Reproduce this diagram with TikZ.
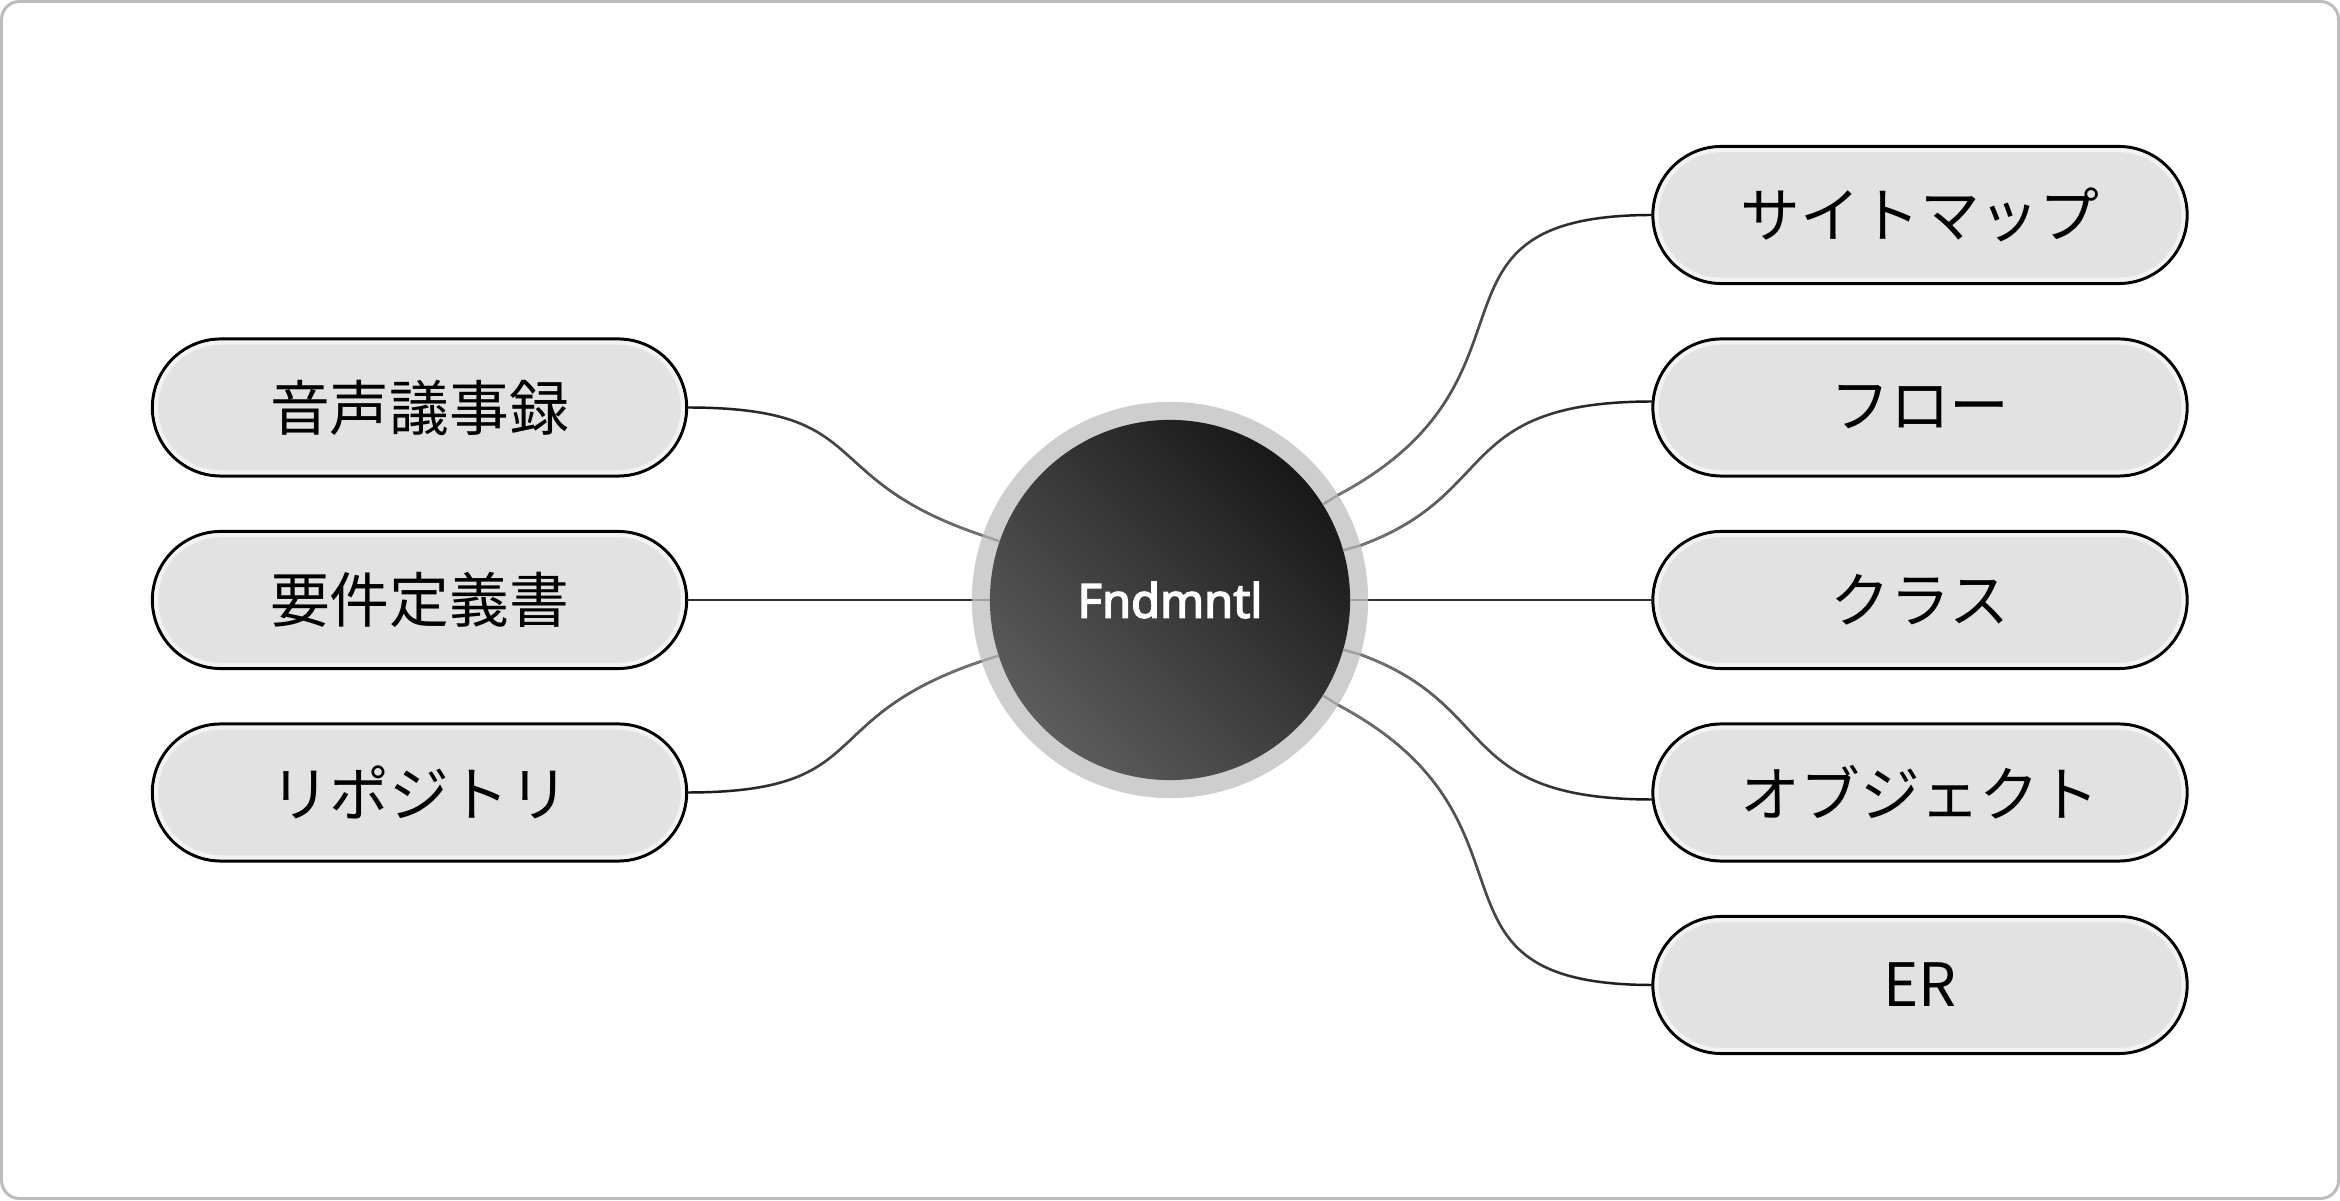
\documentclass[tikz,border=0pt]{standalone}
\usepackage{fontspec}
\newfontfamily\jp{Noto Sans CJK JP}
\newfontfamily\ctrfont[FakeBold=3.2]{Noto Sans}
\usetikzlibrary{calc,fadings}
\definecolor{framec}{HTML}{BDBDBD}
\definecolor{pillfill}{HTML}{E2E2E2}
\definecolor{pillhl}{HTML}{F3F3F3}
\definecolor{ringc}{HTML}{CECECE}
\definecolor{discdark}{HTML}{181818}
\definecolor{disclight}{HTML}{5C5C5C}
\definecolor{connc}{HTML}{141414}
\definecolor{conng}{HTML}{787878}
\definecolor{markc}{HTML}{A0A0A0}
\tikzfading[name=fadeR, left color=transparent!0, right color=transparent!100]
\tikzfading[name=fadeL, left color=transparent!100, right color=transparent!0]
\begin{document}
\begin{tikzpicture}[x=0.01cm,y=0.01cm,
  framebox/.style={draw=framec, line width=0.85pt, fill=white, rounded corners=0.18cm},
  pill/.style={draw=black, line width=0.85pt, fill=pillfill, rounded corners=0.685cm,
    minimum width=5.34cm, minimum height=1.37cm, outer sep=0pt, inner sep=0pt,
    font=\jp\fontsize{17}{20}\selectfont, text=black},
  pillglow/.style={draw=pillhl, line width=1.1pt, rounded corners=0.645cm},
  conn/.style={draw=connc, line width=0.7pt},
  connR/.style={draw=conng, line width=0.7pt, path fading=fadeR},
  connL/.style={draw=conng, line width=0.7pt, path fading=fadeL},
  straightconn/.style={draw=connc!70!conng, line width=0.7pt},
  ringmark/.style={draw=markc, line width=0.7pt},
  ring/.style={circle, fill=ringc, minimum size=3.96cm, inner sep=0pt, outer sep=0pt},
  disc/.style={circle, minimum size=3.6cm, inner sep=0pt, outer sep=0pt,
    top color=discdark, bottom color=disclight, shading angle=-45,
    text=white, font=\ctrfont\bfseries\fontsize{13.4}{15}\selectfont}
]
\useasboundingbox (0,0) rectangle (2340,1200);
\draw[framebox] (1.5,1.5) rectangle (2338.5,1198.5);

% nodes
\node[ring] (c) at (1170,600) {};
\node[disc] (ci) at (1170,600) {Fndmntl};

\node[pill] (p1) at (419.5,792.5) {音声議事録};
\node[pill] (p2) at (419.5,600) {要件定義書};
\node[pill] (p3) at (419.5,407.5) {リポジトリ};

\node[pill] (s) at (1920,985) {サイトマップ};
\node[pill] (f) at (1920,792.5) {フロー};
\node[pill] (k) at (1920,600) {クラス};
\node[pill] (o) at (1920,407.5) {オブジェクト};
\node[pill] (e) at (1920,215) {ER};

\foreach \n in {p1,p2,p3,s,f,k,o,e}{
  \draw[pillglow] ([shift={(3.8,3.8)}]\n.south west) rectangle ([shift={(-3.8,-3.8)}]\n.north east);
}

% connectors left
\draw[conn] (p1.east) .. controls +(190,0) and +(161.5:180) .. (c.161.5);
\draw[connL] (p1.east) .. controls +(190,0) and +(161.5:180) .. (c.161.5);
\draw[conn] (p3.east) .. controls +(190,0) and +(198.5:180) .. (c.198.5);
\draw[connL] (p3.east) .. controls +(190,0) and +(198.5:180) .. (c.198.5);
\draw[straightconn] (p2.east) -- (c.180);

% connectors right
\draw[conn] (c.32) .. controls +(28:250) and +(-250,0) .. (s.west);
\draw[connR] (c.32) .. controls +(28:250) and +(-250,0) .. (s.west);
\draw[conn] (c.16) .. controls +(20:150) and +(-200,0) .. ($(f.west)+(0,6)$);
\draw[connR] (c.16) .. controls +(20:150) and +(-200,0) .. ($(f.west)+(0,6)$);
\draw[straightconn] (c.0) -- (k.west);
\draw[conn] (c.344) .. controls +(-20:150) and +(-200,0) .. ($(o.west)+(0,-7)$);
\draw[connR] (c.344) .. controls +(-20:150) and +(-200,0) .. ($(o.west)+(0,-7)$);
\draw[conn] (c.328) .. controls +(-28:250) and +(-250,0) .. (e.west);
\draw[connR] (c.328) .. controls +(-28:250) and +(-250,0) .. (e.west);

% marks in ring
\foreach \a in {161.5,180,198.5,32,16,0,344,328}{
  \draw[ringmark] (ci.\a) -- (c.\a);
}
\end{tikzpicture}
\end{document}
